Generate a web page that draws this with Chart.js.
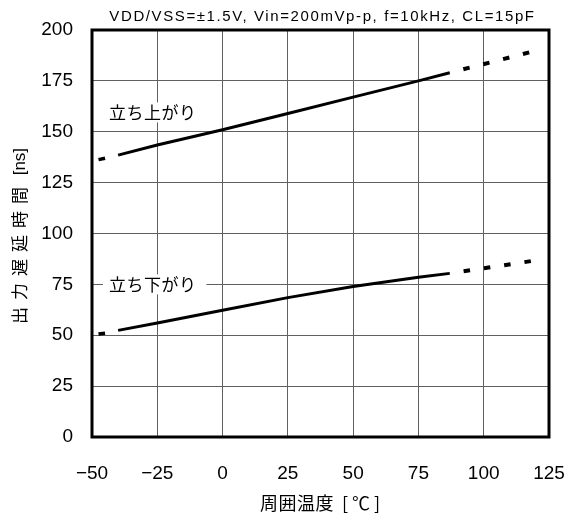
<!DOCTYPE html>
<html><head><meta charset="utf-8">
<script src="https://cdn.jsdelivr.net/npm/chart.js@4"></script>
<style>html,body{margin:0;padding:0;background:#fff}#wrap{width:570px;height:517px;position:relative}</style>
</head><body><div id="wrap"><canvas id="c"></canvas></div>
<script>
// ---- data ----
const riseTemps = [-40, -25, 0, 25, 50, 75, 87];
const riseValues = [138.5, 143.5, 151, 159, 167, 175, 179];
const riseExtTemps = [87, 119];
const riseExtValues = [179, 189.5];
const riseStartTemps = [-47.5, -45];
const riseStartValues = [136.3, 137];

const fallTemps = [-40, -25, 0, 25, 50, 75, 87];
const fallValues = [52.4, 56, 62.3, 68.5, 74, 78.5, 80.4];
const fallExtTemps = [87, 119];
const fallExtValues = [80.4, 86.6];
const fallStartTemps = [-47.5, -45];
const fallStartValues = [50.6, 51];

const xTicks = [-50, -25, 0, 25, 50, 75, 100, 125];
const yTicks = [0, 25, 50, 75, 100, 125, 150, 175, 200];
const seriesNames = ['立ち上がり', '立ち下がり'];
const labelAnchors = [[-43.5, 159.5], [-43.5, 75]];
const chartTitle = 'VDD/VSS=±1.5V, Vin=200mVp-p, f=10kHz, CL=15pF';
const xTitleParts = ['周囲温度', ' [℃]'];
const yTitleParts = ['出力遅延時間', ' [ns]'];

const pts = (xs, ys) => xs.map((x, i) => ({x, y: ys[i]}));
const FONT = "'Liberation Sans', 'Noto Sans CJK JP', sans-serif";
const JFONT = "'Noto Sans CJK JP', 'Liberation Sans', sans-serif";

const solid = (name, xs, ys) => ({label: name, data: pts(xs, ys), borderColor: '#000', borderWidth: 3, pointRadius: 0, fill: false, tension: 0});
const dashed = (name, xs, ys) => ({label: name, data: pts(xs, ys), borderColor: '#000', borderWidth: 4, borderDash: [6.5, 14], borderDashOffset: 6.5, pointRadius: 0, fill: false, tension: 0});
const startDash = (name, xs, ys) => ({label: name, data: pts(xs, ys), borderColor: '#000', borderWidth: 3.5, pointRadius: 0, fill: false, tension: 0});

// draw text made of two parts (different fonts / spacing), centred on 0
function drawParts(ctx, parts, fonts, spacings) {
  const widths = parts.map((p, i) => { ctx.font = fonts[i]; ctx.letterSpacing = spacings[i]; return ctx.measureText(p).width; });
  let x = -widths.reduce((s, w) => s + w, 0) / 2;
  ctx.textAlign = 'left';
  parts.forEach((p, i) => {
    ctx.font = fonts[i]; ctx.letterSpacing = spacings[i];
    ctx.fillText(p, x, 0);
    x += widths[i];
  });
}

const framePlugin = {
  id: 'frame',
  afterDraw(chart) {
    const {ctx, chartArea: a, scales} = chart;
    ctx.save();
    ctx.strokeStyle = '#000';
    ctx.lineWidth = 3;
    ctx.strokeRect(a.left, a.top, a.right - a.left, a.bottom - a.top);
    // title
    ctx.fillStyle = '#000';
    ctx.font = '15px ' + FONT;
    ctx.letterSpacing = '1.6px';
    ctx.textAlign = 'center';
    ctx.textBaseline = 'middle';
    ctx.fillText(chartTitle, (a.left + a.right) / 2 + 2, 17);
    // y axis title
    ctx.save();
    ctx.translate(20, 236);
    ctx.rotate(-Math.PI / 2);
    drawParts(ctx, yTitleParts, ['17px ' + JFONT, '17px ' + FONT], ['7px', '0px']);
    ctx.restore();
    // x axis title
    ctx.save();
    ctx.translate(322, 503);
    drawParts(ctx, xTitleParts, ['18px ' + JFONT, '18px ' + JFONT], ['0.5px', '4px']);
    ctx.restore();
    // series labels
    ctx.font = '17px ' + JFONT;
    ctx.letterSpacing = '0.5px';
    ctx.textAlign = 'left';
    seriesNames.forEach((n, i) => {
      const x = scales.x.getPixelForValue(labelAnchors[i][0]);
      const y = scales.y.getPixelForValue(labelAnchors[i][1]);
      const w = ctx.measureText(n).width;
      ctx.fillStyle = '#fff';
      ctx.fillRect(x - 6, y - 10, w + 16, 20);
      ctx.fillStyle = '#000';
      ctx.fillText(n, x, y);
    });
    ctx.restore();
  }
};

new Chart(document.getElementById('c'), {
  type: 'line',
  data: {
    datasets: [
      solid(seriesNames[0], riseTemps, riseValues),
      dashed(seriesNames[0] + ' ext', riseExtTemps, riseExtValues),
      startDash(seriesNames[0] + ' start', riseStartTemps, riseStartValues),
      solid(seriesNames[1], fallTemps, fallValues),
      dashed(seriesNames[1] + ' ext', fallExtTemps, fallExtValues),
      startDash(seriesNames[1] + ' start', fallStartTemps, fallStartValues)
    ]
  },
  options: {
    responsive: true,
    maintainAspectRatio: false,
    animation: false,
    layout: {padding: {top: 30, right: 21, left: 0, bottom: 0}},
    plugins: {legend: {display: false}, tooltip: {enabled: false}, title: {display: false}},
    scales: {
      x: {
        type: 'linear', min: -50, max: 125,
        afterBuildTicks: s => { s.ticks = xTicks.map(v => ({value: v})); },
        afterFit: s => { s.height = 80; s.paddingLeft = 0; s.paddingRight = 0; },
        grid: {color: '#606060', lineWidth: 1, drawTicks: false},
        border: {display: false},
        ticks: {padding: 25, color: '#000', font: {size: 19, family: FONT}, maxRotation: 0,
          callback: v => String(v).replace('-', '−')}
      },
      y: {
        type: 'linear', min: 0, max: 200,
        afterBuildTicks: s => { s.ticks = yTicks.map(v => ({value: v})); },
        afterFit: s => { s.width = 92; s.paddingTop = 0; s.paddingBottom = 0; },
        grid: {color: '#606060', lineWidth: 1, drawTicks: false},
        border: {display: false},
        ticks: {padding: 19, color: '#000', font: {size: 19, family: FONT}}
      }
    }
  },
  plugins: [framePlugin]
});
</script></body></html>
